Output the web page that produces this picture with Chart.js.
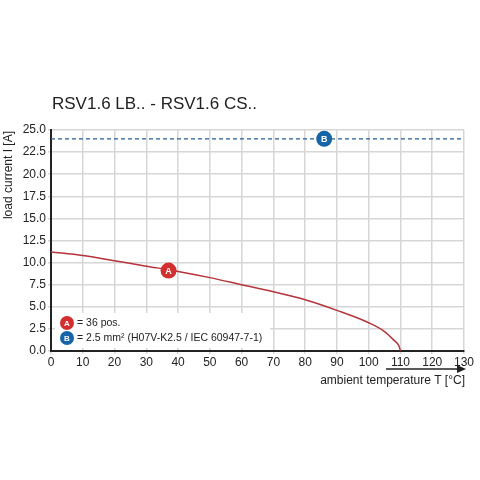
<!DOCTYPE html><html><head><script src="https://cdn.jsdelivr.net/npm/chart.js@4"></script>
<style>body{margin:0;background:#fff}canvas{display:block}</style></head><body>
<canvas id="c" width="480" height="480"></canvas>
<script>
const tempA=[0,10,20,30,40,50,60,70,80,90,100,105,108,109.5,110];
const currentA=[11.2,10.8,10.2,9.6,9.0,8.3,7.5,6.7,5.8,4.6,3.2,2.2,1.2,0.6,0];
const limitB=[[0,24],[130,24]];
const markers=[{x:37,y:9.1,label:'A',color:'#d32f2f'},{x:86,y:24,label:'B',color:'#1565a8'}];
const legendItems=[['A','= 36 pos.','#d32f2f'],['B','= 2.5 mm² (H07V-K2.5 / IEC 60947-7-1)','#1565a8']];
const font='"Liberation Sans", Arial, sans-serif';
const deco={id:'deco',afterDatasetsDraw(ch){const c=ch.ctx;c.save();
c.fillStyle='#222';c.font='17px '+font;c.textBaseline='middle';c.fillText('RSV1.6 LB.. - RSV1.6 CS..',52,104);
const xs=ch.scales.x,ys=ch.scales.y;
markers.forEach(m=>{const px=xs.getPixelForValue(m.x),py=ys.getPixelForValue(m.y);
c.beginPath();c.arc(px,py,8,0,Math.PI*2);c.fillStyle=m.color;c.fill();
c.fillStyle='#fff';c.font='bold 9px '+font;c.textAlign='center';c.fillText(m.label,px,py+0.5);c.textAlign='left';});
c.fillStyle='#fff';c.fillRect(55,313,215,35);
legendItems.forEach((l,i)=>{const y=323+i*15;c.beginPath();c.arc(67,y,7,0,Math.PI*2);c.fillStyle=l[2];c.fill();
c.fillStyle='#fff';c.font='bold 8px '+font;c.textAlign='center';c.fillText(l[0],67,y+0.5);c.textAlign='left';
c.fillStyle='#222';c.font='10.5px '+font;c.fillText(l[1],77,y);});
c.fillStyle='#222';c.font='12px '+font;c.textAlign='right';c.fillText('ambient temperature T [°C]',465,381);
c.strokeStyle='#222';c.lineWidth=1.5;c.beginPath();c.moveTo(386,369);c.lineTo(458,369);c.stroke();
c.beginPath();c.moveTo(466,369);c.lineTo(457,365);c.lineTo(457,373);c.closePath();c.fill();
c.save();c.translate(9,131);c.rotate(-Math.PI/2);c.textAlign='right';c.font='12px '+font;c.fillText('load current I [A]',0,0);c.restore();
c.restore();}};
new Chart(document.getElementById('c'),{type:'scatter',data:{datasets:[
{data:tempA.map((t,i)=>({x:t,y:currentA[i]})),showLine:true,borderColor:'#b5333a',borderWidth:1.5,pointRadius:0,cubicInterpolationMode:'monotone'},
{data:limitB.map(p=>({x:p[0],y:p[1]})),showLine:true,borderColor:'#1f5f9a',borderWidth:1.2,borderDash:[4,3],pointRadius:0}]},
options:{responsive:false,animation:false,plugins:{legend:{display:false},tooltip:{enabled:false}},
layout:{padding:{left:0,top:130,right:16,bottom:99}},
scales:{x:{type:'linear',min:0,max:130,afterFit(s){s.height=30},ticks:{stepSize:10,padding:1,color:'#222',font:{size:12,family:font},maxRotation:0},grid:{color:'#d6d6d6',lineWidth:1.5,tickLength:3},border:{color:'#222',width:2}},
y:{min:0,max:25,afterFit(s){s.width=51},ticks:{stepSize:2.5,padding:2,color:'#222',font:{size:12,family:font},callback:v=>v.toFixed(1)},grid:{color:'#d6d6d6',lineWidth:1.5,tickLength:3},border:{color:'#222',width:2}}}},
plugins:[deco]});
</script></body></html>
